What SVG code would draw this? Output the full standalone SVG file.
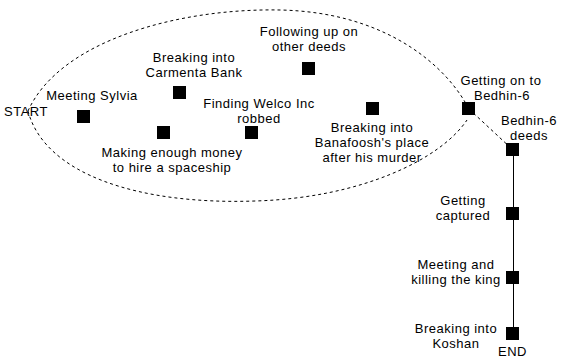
<svg xmlns="http://www.w3.org/2000/svg" width="562" height="364" viewBox="0 0 562 364">
<style>
text{font-family:"Liberation Sans",Arial,sans-serif;font-size:13px;letter-spacing:0.5px;fill:#000;text-anchor:middle}
.n rect{fill:#000}
.dash{fill:none;stroke:#000;stroke-width:1;stroke-dasharray:3,3}
.solid{fill:none;stroke:#000;stroke-width:1}
</style>
<rect width="562" height="364" fill="#fff"/>
<g id="boundary">
<path class="dash" d="M28,111 C60,40 180,8 280,10 C380,12 440,60 465,102"/>
<path class="dash" d="M28,111 C45,175 140,205 255,201 C360,198 440,160 467,120"/>
</g>
<g id="connectors">
<line class="dash" x1="469" y1="109" x2="513" y2="150"/>
<line class="solid" x1="513.5" y1="150" x2="513.5" y2="334"/>
</g>
<g id="start"><text x="4" y="116" style="text-anchor:start">START</text></g>
<g id="sylvia" class="n"><rect x="77" y="110" width="13" height="13"/><text x="92" y="100">Meeting Sylvia</text></g>
<g id="carmenta" class="n"><rect x="173" y="86" width="13" height="13"/><text x="194" y="62">Breaking into</text><text x="194" y="77">Carmenta Bank</text></g>
<g id="money" class="n"><rect x="157" y="126" width="13" height="13"/><text x="172" y="157">Making enough money</text><text x="172" y="172">to hire a spaceship</text></g>
<g id="welco" class="n"><rect x="245" y="126" width="13" height="13"/><text x="259" y="108">Finding Welco Inc</text><text x="259" y="123">robbed</text></g>
<g id="following" class="n"><rect x="302" y="62" width="13" height="13"/><text x="309" y="36">Following up on</text><text x="309" y="51">other deeds</text></g>
<g id="banafoosh" class="n"><rect x="366" y="102" width="13" height="13"/><text x="372" y="132">Breaking into</text><text x="372" y="147">Banafoosh's place</text><text x="372" y="162">after his murder</text></g>
<g id="bedhin" class="n"><rect x="462" y="102" width="13" height="13"/><text x="501" y="85">Getting on to</text><text x="502" y="100">Bedhin-6</text></g>
<g id="bedhin-deeds" class="n"><rect x="506" y="143" width="13" height="13"/><text x="529" y="125">Bedhin-6</text><text x="529" y="140">deeds</text></g>
<g id="captured" class="n"><rect x="506" y="207" width="13" height="13"/><text x="463" y="205">Getting</text><text x="463" y="220">captured</text></g>
<g id="king" class="n"><rect x="506" y="271" width="13" height="13"/><text x="456" y="269">Meeting and</text><text x="456" y="284">killing the king</text></g>
<g id="koshan" class="n"><rect x="506" y="327" width="13" height="13"/><text x="456" y="333">Breaking into</text><text x="456" y="348">Koshan</text></g>
<g id="end"><text x="512.5" y="356">END</text></g>
</svg>
